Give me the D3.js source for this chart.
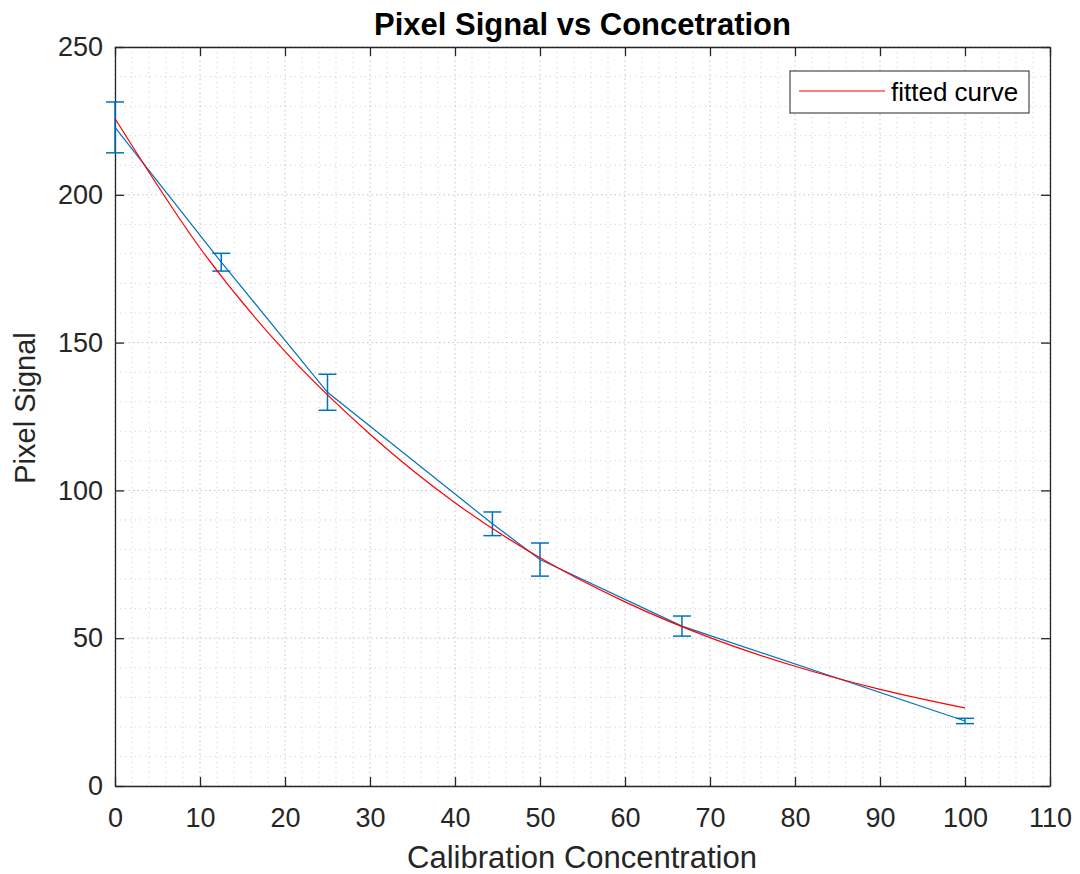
<!DOCTYPE html>
<html>
<head>
<meta charset="utf-8">
<script src="https://cdn.jsdelivr.net/npm/d3@7"></script>
<style>
  body { margin: 0; background: #fff; }
  svg { font-family: "Liberation Sans", Arial, sans-serif; }
</style>
</head>
<body>
<div id="chart"></div>
<script>
// measured points (mean and error half-width)
var concentration = [0, 12.5, 25, 44.4, 50, 66.7, 100];
var signal = [222.8, 177.2, 133.2, 88.7, 76.6, 54.1, 22.0];
var signalErr = [8.6, 3.0, 6.1, 4.0, 5.6, 3.4, 0.9];

// fitted curve
var fitX = [0, 10, 20, 30, 40, 50, 60, 70, 80, 90, 100];
var fitY = [225.8, 182.0, 147.0, 119.0, 95.8, 77.2, 62.3, 50.2, 40.5, 32.7, 26.4];

var xTicks = [0, 10, 20, 30, 40, 50, 60, 70, 80, 90, 100, 110];
var yTicks = [0, 50, 100, 150, 200, 250];

var svgWidth = 1080;
var svgHeight = 874;
var margin = {top: 47, right: 30, bottom: 88, left: 115};
var width = svgWidth - margin.left - margin.right;
var height = svgHeight - margin.top - margin.bottom;

var svg = d3.select("#chart")
  .append("svg")
  .attr("width", svgWidth)
  .attr("height", svgHeight);

var chartGroup = svg.append("g")
  .attr("transform", `translate(${margin.left}, ${margin.top})`);

var x = d3.scaleLinear().domain([0, 110]).range([0, width]);
var y = d3.scaleLinear().domain([0, 250]).range([height, 0]);

// minor grid
var grid = chartGroup.append("g").attr("class", "grid");
grid.selectAll(".minorx")
  .data(d3.range(0, 111, 2).filter(d => d % 10 != 0))
  .enter().append("line")
  .attr("x1", d => x(d)).attr("x2", d => x(d))
  .attr("y1", 0).attr("y2", height)
  .attr("stroke", "#cfcfcf")
  .attr("stroke-dasharray", "1,4");
grid.selectAll(".minory")
  .data(d3.range(0, 251, 10).filter(d => d % 50 != 0))
  .enter().append("line")
  .attr("x1", 0).attr("x2", width)
  .attr("y1", d => y(d)).attr("y2", d => y(d))
  .attr("stroke", "#cfcfcf")
  .attr("stroke-dasharray", "1,4");

// major grid
grid.selectAll(".majorx")
  .data(xTicks)
  .enter().append("line")
  .attr("x1", d => x(d)).attr("x2", d => x(d))
  .attr("y1", 0).attr("y2", height)
  .attr("stroke", "#c4c4c4")
  .attr("stroke-dasharray", "1.5,3");
grid.selectAll(".majory")
  .data(yTicks)
  .enter().append("line")
  .attr("x1", 0).attr("x2", width)
  .attr("y1", d => y(d)).attr("y2", d => y(d))
  .attr("stroke", "#c4c4c4")
  .attr("stroke-dasharray", "1.5,3");

// axes, ticks inside on all four sides
var axisColor = "#262626";
function styleAxis(g) {
  g.select(".domain").attr("stroke", axisColor).attr("stroke-width", 1.3);
  g.selectAll(".tick line").attr("stroke", axisColor).attr("stroke-width", 1.3);
  g.selectAll(".tick text")
    .attr("fill", axisColor)
    .attr("font-size", "27px")
    .attr("font-family", "Liberation Sans, Arial, sans-serif");
}

chartGroup.append("g")
  .attr("transform", `translate(0, ${height})`)
  .call(d3.axisBottom(x).tickValues(xTicks).tickSize(-9).tickPadding(22).tickSizeOuter(0))
  .call(styleAxis);

chartGroup.append("g")
  .call(d3.axisLeft(y).tickValues(yTicks).tickSize(-9).tickPadding(12).tickSizeOuter(0))
  .call(styleAxis);

chartGroup.append("g")
  .call(d3.axisTop(x).tickValues(xTicks).tickSize(-9).tickFormat("").tickSizeOuter(0))
  .call(styleAxis);

chartGroup.append("g")
  .attr("transform", `translate(${width}, 0)`)
  .call(d3.axisRight(y).tickValues(yTicks).tickSize(-9).tickFormat("").tickSizeOuter(0))
  .call(styleAxis);

// data line
var blue = "#0072BD";
var points = concentration.map((c, i) => ({x: c, y: signal[i], e: signalErr[i]}));

chartGroup.append("path")
  .datum(points)
  .attr("fill", "none")
  .attr("stroke", blue)
  .attr("stroke-width", 1.2)
  .attr("d", d3.line().x(d => x(d.x)).y(d => y(d.y)));

// error bars
var errGroup = chartGroup.append("g");
var errs = errGroup.selectAll("g")
  .data(points)
  .enter().append("g")
  .attr("stroke", blue)
  .attr("stroke-width", 1.5);
errs.append("line")
  .attr("x1", d => x(d.x)).attr("x2", d => x(d.x))
  .attr("y1", d => y(d.y - d.e)).attr("y2", d => y(d.y + d.e));
errs.append("line")
  .attr("x1", d => x(d.x) - 9).attr("x2", d => x(d.x) + 9)
  .attr("y1", d => y(d.y + d.e)).attr("y2", d => y(d.y + d.e));
errs.append("line")
  .attr("x1", d => x(d.x) - 9).attr("x2", d => x(d.x) + 9)
  .attr("y1", d => y(d.y - d.e)).attr("y2", d => y(d.y - d.e));

// fitted curve
var fitPoints = fitX.map((v, i) => ({x: v, y: fitY[i]}));
chartGroup.append("path")
  .datum(fitPoints)
  .attr("fill", "none")
  .attr("stroke", "#ff0000")
  .attr("stroke-width", 1.2)
  .attr("d", d3.line().curve(d3.curveMonotoneX).x(d => x(d.x)).y(d => y(d.y)));

// legend
var legend = svg.append("g")
  .attr("transform", "translate(790, 71)");
legend.append("rect")
  .attr("width", 239)
  .attr("height", 42)
  .attr("fill", "#fff")
  .attr("stroke", "#262626")
  .attr("stroke-width", 1);
legend.append("line")
  .attr("x1", 9).attr("x2", 95)
  .attr("y1", 20).attr("y2", 20)
  .attr("stroke", "#ff0000")
  .attr("stroke-width", 1.2);
legend.append("text")
  .attr("x", 101)
  .attr("y", 30)
  .attr("font-size", "26px")
  .attr("fill", "#000")
  .text("fitted curve");

// title and axes labels
svg.append("text")
  .attr("x", margin.left + width / 2)
  .attr("y", 35)
  .attr("text-anchor", "middle")
  .attr("font-size", "31px")
  .attr("font-weight", "bold")
  .attr("fill", "#000")
  .text("Pixel Signal vs Concetration");

svg.append("text")
  .attr("x", 582)
  .attr("y", 868)
  .attr("text-anchor", "middle")
  .attr("font-size", "31px")
  .attr("fill", axisColor)
  .text("Calibration Concentration");

svg.append("text")
  .attr("transform", "rotate(-90)")
  .attr("x", -408)
  .attr("y", 35)
  .attr("text-anchor", "middle")
  .attr("font-size", "29px")
  .attr("fill", axisColor)
  .text("Pixel Signal");
</script>
</body>
</html>
